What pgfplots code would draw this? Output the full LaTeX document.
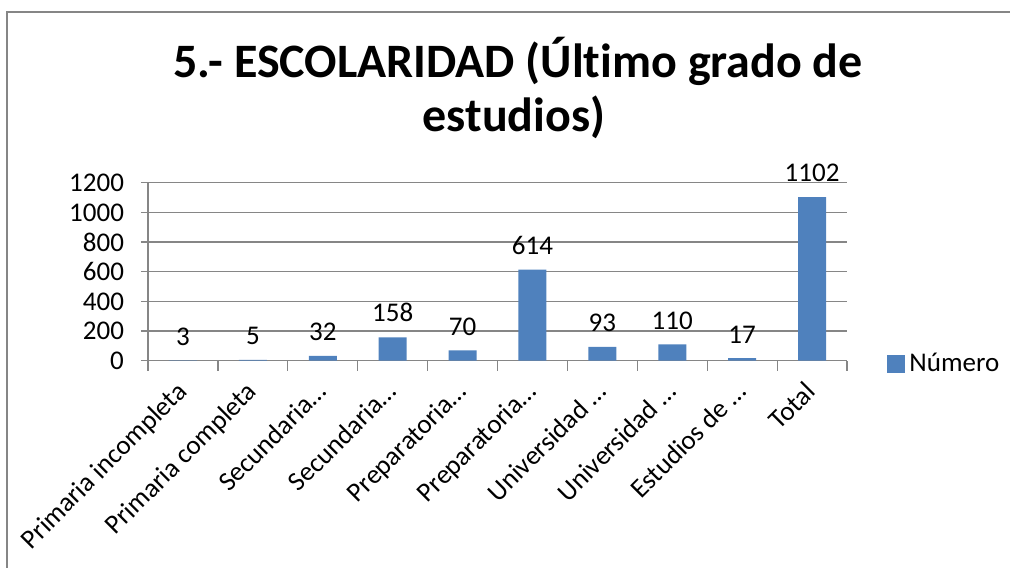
\documentclass[border=0pt]{standalone}
\usepackage{pgfplots}
\pgfplotsset{compat=1.18}
\usepackage{fontspec}
\setmainfont[Ligatures=NoCommon]{Carlito}
\definecolor{barblue}{HTML}{4F81BD}
\definecolor{axgray}{HTML}{868686}
\newcommand\lblfont{\fontsize{13.5}{16}\selectfont}
\begin{document}
\begin{tikzpicture}
\useasboundingbox (0pt,0pt) rectangle (505pt,283.5pt);
\draw[axgray, line width=0.9pt] (3.5pt,-5pt) -- (3.5pt,277.5pt) -- (515pt,277.5pt);
\node[font=\fontsize{24}{27}\selectfont\bfseries, anchor=base, inner sep=0pt] at (259pt,244.5pt) {5.- ESCOLARIDAD (Último grado de};
\node[font=\fontsize{24}{27}\selectfont\bfseries, anchor=base, inner sep=0pt] at (257pt,217.5pt) {estudios)};
\begin{axis}[
  at={(74pt,103.15pt)}, anchor=south west,
  width=349.5pt, height=89pt, scale only axis,
  ybar, bar width=14pt,
  xmin=-0.5, xmax=9.5, ymin=0, ymax=1200,
  ytick={0,200,...,1200},
  xtick={0,...,9},
  xticklabels={Primaria incompleta, Primaria completa, Secundaria…, Secundaria…, Preparatoria…, Preparatoria…, Universidad …, Universidad …, Estudios de …, Total},
  minor xtick={-0.5,0.5,...,9.5},
  axis x line*=bottom, axis y line*=left,
  axis line style={axgray, line width=0.6pt},
  ymajorgrids, grid style={axgray, line width=0.6pt},
  tick align=outside,
  major tick length=3.5pt, minor tick length=5pt,
  tick style={axgray, line width=0.6pt},
  major x tick style={draw=none},
  /pgf/number format/1000 sep={},
  /pgf/number format/assume math mode=true,
  ticklabel style={font=\lblfont, text=black},
  yticklabel style={xshift=-5pt},
  xticklabel style={xshift=-4pt, yshift=-6pt, rotate=45, anchor=north east, inner sep=0pt},
  nodes near coords,
  nodes near coords style={font=\lblfont, text=black, anchor=south, yshift=4pt},
  legend style={draw=none, at={(1,0)}, anchor=west, xshift=17pt, yshift=-1.5pt, font=\lblfont},
  legend image code/.code={\fill[barblue] (0pt,-4.5pt) rectangle (9pt,4.5pt);},
  clip=false,
]
\addplot[fill=barblue, draw=none] coordinates {(0,3) (1,5) (2,32) (3,158) (4,70) (5,614) (6,93) (7,110) (8,17) (9,1102)};
\addlegendentry{Número}
\end{axis}
\end{tikzpicture}
\end{document}
